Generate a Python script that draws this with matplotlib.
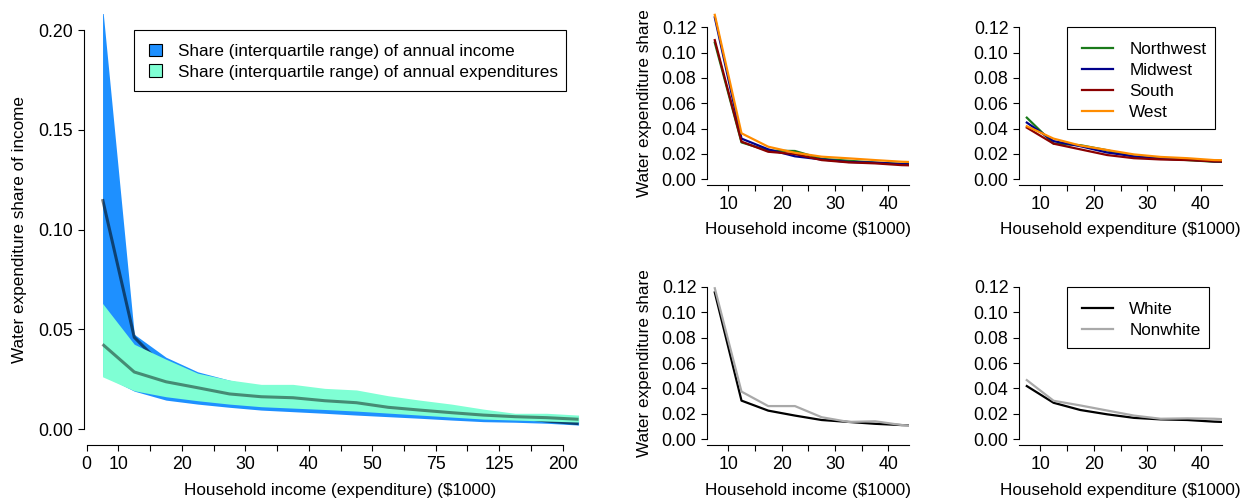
import numpy as np
import matplotlib
matplotlib.use("Agg")
import matplotlib.pyplot as plt
from matplotlib.patches import Patch, Rectangle
from matplotlib.lines import Line2D

plt.rcParams['font.family'] = ['Liberation Sans', 'DejaVu Sans']
plt.rcParams['font.size'] = 12

# ---- Left panel: interquartile ranges of the water share by bracket ----
bracket_labels = ['0', '10', '', '20', '', '30', '', '40', '', '50', '', '75', '', '125', '', '200']

inc_q1 = [0.027, 0.019, 0.0145, 0.0125, 0.0109, 0.0095, 0.0087, 0.0079,
          0.0070, 0.0062, 0.0054, 0.0045, 0.0037, 0.0034, 0.0029, 0.0020]
inc_med = [0.1153, 0.046, 0.030, 0.024, 0.019, 0.016, 0.0145, 0.013,
           0.012, 0.0105, 0.009, 0.008, 0.0068, 0.006, 0.0040, 0.0027]
inc_q3 = [0.212, 0.0475, 0.036, 0.0287, 0.0245, 0.021, 0.019, 0.017,
          0.016, 0.014, 0.012, 0.010, 0.0085, 0.007, 0.006, 0.005]

exp_q1 = [0.0262, 0.0192, 0.0162, 0.0142, 0.0125, 0.0112, 0.0105, 0.0098,
          0.0090, 0.0080, 0.0070, 0.0060, 0.0050, 0.0045, 0.0040, 0.0035]
exp_med = [0.0425, 0.0286, 0.0237, 0.0207, 0.0176, 0.0162, 0.0157, 0.0142,
           0.0132, 0.0109, 0.0095, 0.0082, 0.0070, 0.0062, 0.0057, 0.0049]
exp_q3 = [0.063, 0.0425, 0.035, 0.028, 0.0246, 0.0224, 0.0224, 0.0204,
          0.0196, 0.0167, 0.0145, 0.0125, 0.010, 0.0079, 0.0079, 0.007]

# ---- Small panels: median water share by group ----
bin_mid = [7.5, 12.5, 17.5, 22.5, 27.5, 32.5, 37.5, 42.5, 47.5]

regions = ['Northwest', 'Midwest', 'South', 'West']
region_colors = ['#1a7a1a', '#00008B', '#8B0000', '#FF8C00']
region_income = {
    'Northwest': [0.108, 0.029, 0.0225, 0.0222, 0.016, 0.0145, 0.013, 0.012, 0.0115],
    'Midwest':   [0.128, 0.032, 0.0235, 0.018, 0.0155, 0.0135, 0.013, 0.0118, 0.0112],
    'South':     [0.110, 0.0296, 0.0216, 0.0198, 0.015, 0.0132, 0.0124, 0.011, 0.0105],
    'West':      [0.130, 0.0362, 0.0256, 0.0208, 0.0177, 0.0164, 0.015, 0.0137, 0.013],
}
region_expend = {
    'Northwest': [0.0486, 0.028, 0.0268, 0.0228, 0.0176, 0.0163, 0.015, 0.0137, 0.0135],
    'Midwest':   [0.0447, 0.030, 0.026, 0.021, 0.018, 0.016, 0.0155, 0.014, 0.0138],
    'South':     [0.0407, 0.028, 0.0235, 0.019, 0.0165, 0.0155, 0.015, 0.014, 0.0138],
    'West':      [0.0418, 0.032, 0.0265, 0.023, 0.0195, 0.0175, 0.0165, 0.015, 0.0148],
}

races = ['White', 'Nonwhite']
race_colors = ['#000000', '#A9A9A9']
race_income = {
    'White':    [0.1157, 0.0303, 0.0224, 0.0185, 0.015, 0.0135, 0.012, 0.011, 0.0105],
    'Nonwhite': [0.119, 0.0374, 0.026, 0.026, 0.0172, 0.0135, 0.014, 0.011, 0.010],
}
race_expend = {
    'White':    [0.0418, 0.0286, 0.0229, 0.0195, 0.0167, 0.0155, 0.015, 0.0137, 0.013],
    'Nonwhite': [0.0465, 0.0302, 0.0265, 0.0225, 0.0185, 0.016, 0.0163, 0.016, 0.015],
}

W, H = 1250, 504
TICK_FS = 12.8
TEXT_FS = 12.3
fig = plt.figure(figsize=(W / 100, H / 100), dpi=100)


def px_axes(x0, x1, ytop, ybot):
    return fig.add_axes([x0 / W, (H - ybot) / H, (x1 - x0) / W, (ybot - ytop) / H])


def base_style(ax):
    ax.spines['top'].set_visible(False)
    ax.spines['right'].set_visible(False)
    for s in ('left', 'bottom'):
        ax.spines[s].set_linewidth(0.8)
    ax.tick_params(direction='out', length=4.3, width=0.8, pad=3.5,
                   labelsize=TICK_FS, colors='black')


def label(x, y, text, rot=0):
    fig.text(x / W, 1 - y / H, text, ha='center', va='center',
             rotation=rot, fontsize=TEXT_FS)


def boxed_legend(a, handles, labels, x_handle, y_row1, box_left, box_top,
                 box_bottom, right_pad, **kw):
    """Legend whose entries start at x_handle, first row centred on y_row1,
    framed by a box with its own left/top/bottom edges and a right margin."""
    anchor_y = 1 - y_row1 / H
    lg = a.legend(handles, labels, loc='upper left',
                  bbox_to_anchor=(x_handle / W, anchor_y),
                  bbox_transform=fig.transFigure, borderaxespad=0,
                  borderpad=0, frameon=False, fontsize=TEXT_FS, **kw)
    fig.canvas.draw()
    t = lg.get_texts()[0].get_window_extent()
    cy = (t.y0 + t.y1) / 2
    target = H - y_row1 - 1.5
    lg.set_bbox_to_anchor((x_handle / W, anchor_y + (target - cy) / H),
                          transform=fig.transFigure)
    fig.canvas.draw()
    right = max(tx.get_window_extent().x1 for tx in lg.get_texts()) + right_pad
    frame = Rectangle((box_left / W, 1 - box_bottom / H),
                      (right - box_left) / W, (box_bottom - box_top) / H,
                      transform=fig.transFigure, fill=False,
                      edgecolor='black', lw=0.8)
    fig.add_artist(frame)
    return lg


# ---- Left panel ----
ax = px_axes(83.5, 597.6, 14.2, 445.0)
base_style(ax)
pos = np.arange(len(inc_med)) + 0.5
ax.fill_between(pos, inc_q1, inc_q3, color='#1E90FF', lw=0, zorder=1)
ax.plot(pos, inc_med, color='black', alpha=0.55, lw=2.2,
        solid_capstyle='butt', zorder=2)
ax.fill_between(pos, exp_q1, exp_q3, color='#7FFFD4', lw=0, zorder=3)
ax.plot(pos, exp_med, color='black', alpha=0.45, lw=2.2,
        solid_capstyle='butt', zorder=4)
ax.set_xlim(-0.1, 16.1)
ax.set_ylim(-0.008, 0.208)
ax.set_xticks(np.arange(len(bracket_labels)))
ax.set_xticklabels(bracket_labels)
ax.set_yticks([0, 0.05, 0.10, 0.15, 0.20])
ax.set_yticklabels(['0.00', '0.05', '0.10', '0.15', '0.20'])
ax.spines['left'].set_bounds(0, 0.20)
ax.spines['bottom'].set_bounds(0, len(bracket_labels) - 1)
label(340.5, 490, 'Household income (expenditure) ($1000)')
label(20, 229.6, 'Water expenditure share of income', rot=90)


# ---- Small panels ----
def small_panel(x0, x1, ytop, ybot, groups, colors, series):
    a = px_axes(x0, x1, ytop, ybot)
    base_style(a)
    clip = Rectangle((0, -0.05), 1, 1.3, transform=a.transAxes,
                     facecolor='none', edgecolor='none')
    a.add_patch(clip)
    for g, c in zip(groups, colors):
        ln, = a.plot(bin_mid, series[g], color=c, lw=1.6, label=g)
        ln.set_clip_path(clip)
    a.set_xlim(6.1, 43.9)
    a.set_ylim(-0.0048, 0.1248)
    a.set_xticks([10, 15, 20, 25, 30, 35, 40])
    a.set_xticklabels(['10', '', '20', '', '30', '', '40'])
    yt = [0, 0.02, 0.04, 0.06, 0.08, 0.10, 0.12]
    a.set_yticks(yt)
    a.set_yticklabels(['%.2f' % v for v in yt])
    a.spines['left'].set_bounds(0, 0.12)
    return a


axA = small_panel(707.3, 909.3, 21.4, 185.1, regions, region_colors, region_income)
axB = small_panel(1019.3, 1221.7, 21.4, 185.1, regions, region_colors, region_expend)
axC = small_panel(707.3, 909.3, 280.9, 445.1, races, race_colors, race_income)
axD = small_panel(1019.3, 1221.7, 280.9, 445.1, races, race_colors, race_expend)

label(808.3, 230, 'Household income ($1000)')
label(1120.5, 230, 'Household expenditure ($1000)')
label(808.3, 490, 'Household income ($1000)')
label(1120.5, 490, 'Household expenditure ($1000)')
label(645, 103.2, 'Water expenditure share', rot=90)
label(645, 363, 'Water expenditure share', rot=90)

# ---- Legends ----
band_handles = [Patch(facecolor='#1E90FF', edgecolor='black', lw=0.8),
                Patch(facecolor='#7FFFD4', edgecolor='black', lw=0.8)]
boxed_legend(ax, band_handles,
             ['Share (interquartile range) of annual income',
              'Share (interquartile range) of annual expenditures'],
             x_handle=149, y_row1=50, box_left=134, box_top=30,
             box_bottom=91, right_pad=8.4,
             handlelength=0.78, handleheight=0.78, handletextpad=0.9,
             labelspacing=0.32)

region_handles = [Line2D([], [], color=c, lw=1.6) for c in region_colors]
boxed_legend(axB, region_handles, regions,
             x_handle=1081.7, y_row1=48.3, box_left=1066.7, box_top=26.7,
             box_bottom=129.3, right_pad=8.3,
             handlelength=1.85, handletextpad=0.94, labelspacing=0.34)

race_handles = [Line2D([], [], color=c, lw=1.6) for c in race_colors]
boxed_legend(axD, race_handles, races,
             x_handle=1081.7, y_row1=308.3, box_left=1066.7, box_top=286.7,
             box_bottom=348.3, right_pad=8.3,
             handlelength=1.85, handletextpad=0.94, labelspacing=0.34)

fig.savefig('out.png', dpi=100)
